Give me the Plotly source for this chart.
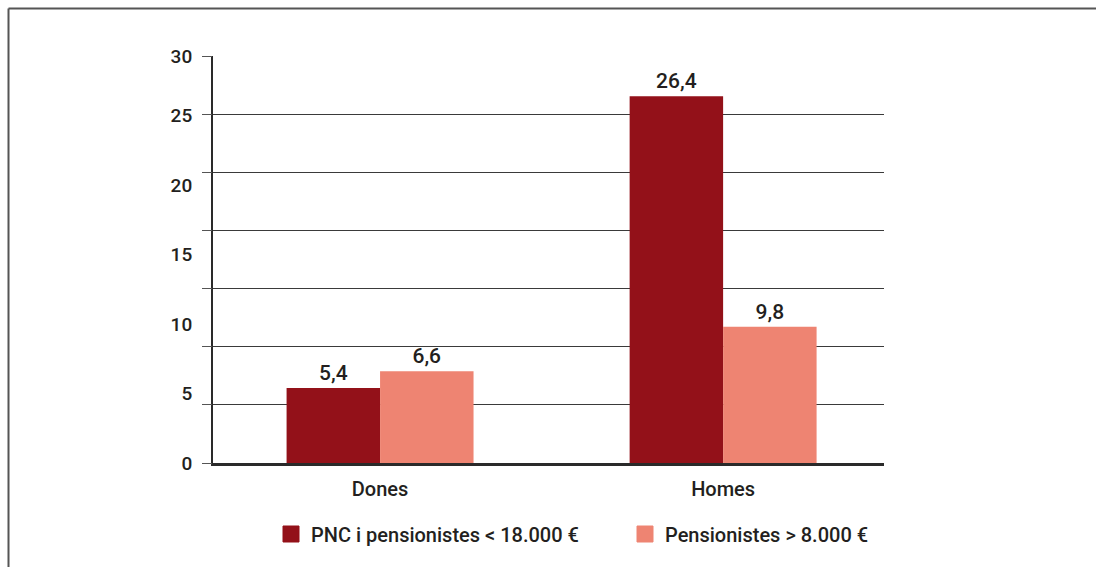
import plotly.graph_objects as go

categories = ["Dones", "Homes"]
series_names = ["PNC i pensionistes < 18.000 €", "Pensionistes > 8.000 €"]
pnc_values = [5.4, 26.4]
pens_values = [6.6, 9.8]
tick_values = [0, 5, 10, 15, 20, 25, 29.25]
tick_labels = ["0", "5", "10", "15", "20", "25", "30"]

dark = "#931119"
light = "#EE8472"
font_family = "Roboto, 'DejaVu Sans', sans-serif"
text_color = "#231F20"

fig = go.Figure()
fig.add_trace(go.Bar(
    x=categories, y=pnc_values, name=series_names[0],
    marker=dict(color=dark, line=dict(width=0)),
    texttemplate="%{y:.1f}", textposition="outside",
    textfont=dict(size=21, color=text_color, family=font_family, weight=500),
    cliponaxis=False, showlegend=False,
))
fig.add_trace(go.Bar(
    x=categories, y=pens_values, name=series_names[1],
    marker=dict(color=light, line=dict(width=0)),
    texttemplate="%{y:.1f}", textposition="outside",
    textfont=dict(size=21, color=text_color, family=font_family, weight=500),
    cliponaxis=False, showlegend=False,
))
# legend entries
for nm, col in zip(series_names, [dark, light]):
    fig.add_trace(go.Scatter(
        x=[None], y=[None], mode="markers", name=nm,
        marker=dict(symbol="square", size=16, color=col, line=dict(width=1, color=col)),
        showlegend=True,
    ))
# gridline axis (7 equal intervals)
fig.add_trace(go.Scatter(x=[None], y=[None], yaxis="y2", showlegend=False, hoverinfo="skip"))

ph = 407
pw = 671
legend_entry = 309
legend_right = 271 + 2 * (legend_entry + 45)
fig.update_layout(
    width=1096, height=567,
    margin=dict(l=213, r=212, t=56, b=104),
    paper_bgcolor="white", plot_bgcolor="white",
    separators=",.",
    barmode="group", bargap=0.455, bargroupgap=0,
    font=dict(family=font_family, size=19, color=text_color, weight=500),
    xaxis=dict(
        range=[-0.487, 1.469], showgrid=False, zeroline=False,
        showline=True, linecolor="#2a2a2a", linewidth=3,
        ticks="outside", ticklen=6, tickcolor="rgba(0,0,0,0)",
        tickfont=dict(size=20, color=text_color, weight=500),
    ),
    yaxis=dict(
        range=[0, 29.3], tickvals=tick_values, ticktext=tick_labels,
        showgrid=False, zeroline=False,
        showline=True, linecolor="#2a2a2a", linewidth=2,
        ticks="outside", ticklen=15, tickcolor="rgba(0,0,0,0)",
        tickfont=dict(size=19, color=text_color, weight=500),
    ),
    yaxis2=dict(
        overlaying="y", side="left", range=[0, 7], dtick=1,
        showgrid=True, gridcolor="#3a3a3a", gridwidth=1,
        zeroline=False, showline=False, showticklabels=False,
        ticks="outside", ticklen=10, tickcolor="#555555", tickwidth=1,
    ),
    legend=dict(
        orientation="h", x=(legend_right - 213) / pw, xanchor="right",
        y=(463 - 534) / ph, yanchor="middle",
        entrywidth=legend_entry, entrywidthmode="pixels",
        font=dict(size=20, color=text_color, family=font_family, weight=500),
        bgcolor="rgba(0,0,0,0)",
    ),
    shapes=[
        dict(type="line", xref="paper", yref="paper",
             x0=(8.5 - 213) / pw, x1=(1096 - 213) / pw,
             y0=(463 - 8.5) / ph, y1=(463 - 8.5) / ph,
             line=dict(color="#555555", width=2)),
        dict(type="line", xref="paper", yref="paper",
             x0=(8.5 - 213) / pw, x1=(8.5 - 213) / pw,
             y0=(463 - 8.5) / ph, y1=(463 - 570) / ph,
             line=dict(color="#555555", width=2)),
    ],
)

fig.write_html("out.html", config={"displayModeBar": False},
               post_script="document.body.style.margin='0';document.body.style.padding='0';")
